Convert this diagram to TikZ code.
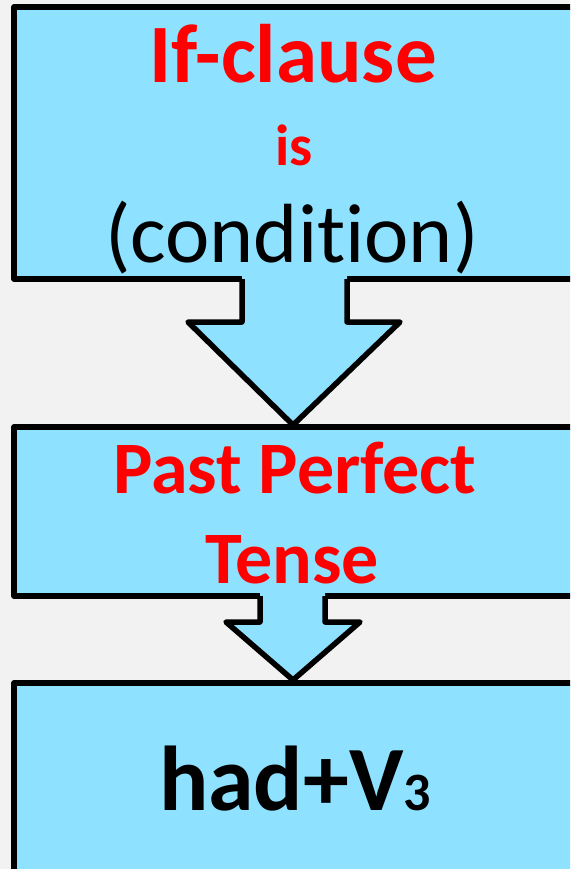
\documentclass[tikz,border=0pt]{standalone}
\usepackage{fontspec}
\setmainfont{Carlito}[Ligatures={NoCommon,NoDiscretionary},RawFeature={-liga;-dlig;-clig}]
\definecolor{bg}{HTML}{F2F2F2}
\definecolor{boxblue}{HTML}{8EE2FF}
\definecolor{txtred}{HTML}{FF0000}
\begin{document}
\begin{tikzpicture}[x=1pt,y=-1pt,
  boxstyle/.style={draw=black,fill=boxblue,line width=5.5pt,line join=round},
  arrowfill/.style={fill=boxblue},
  arrowline/.style={draw=black,line width=5.5pt,line join=round},
  lbl/.style={anchor=base,inner sep=0pt}]
\useasboundingbox (0,0) rectangle (570,869);
\fill[bg] (0,0) rectangle (570,869);
\clip (0,0) rectangle (570,869);
% box 1
\draw[boxstyle] (14,7) rectangle (620,279);
% arrow 1
\fill[arrowfill] (242,275) -- (242,322) -- (188,322) -- (293,425) -- (400,322) -- (347,322) -- (347,275) -- cycle;
\draw[arrowline] (242,279) -- (242,322) -- (188,322) -- (293,425) -- (400,322) -- (347,322) -- (347,279);
% box 2
\draw[boxstyle] (14,427) rectangle (620,596);
% arrow 2
\fill[arrowfill] (260,592) -- (260,622) -- (226,622) -- (293,680) -- (360,622) -- (325,622) -- (325,592) -- cycle;
\draw[arrowline] (260,596) -- (260,622) -- (226,622) -- (293,680) -- (360,622) -- (325,622) -- (325,596);
% box 3
\draw[boxstyle] (14,683) rectangle (620,900);
% texts
\node[lbl,text=txtred,font=\fontsize{83}{99}\selectfont\bfseries] (t1) at (293,83) {If-clause};
\node[lbl,text=txtred,font=\fontsize{58}{68}\selectfont\bfseries] (t2) at (294,166) {is};
\node[lbl,text=black,font=\fontsize{84}{100}\selectfont] (t3) at (292,262) {(condit\kern0pt ion)};
\node[lbl,text=txtred,font=\fontsize{74}{88}\selectfont\bfseries] (t4) at (295,493) {Past Perfect};
\node[lbl,text=txtred,font=\fontsize{74}{88}\selectfont\bfseries] (t5) at (292,583) {Tense};
\node[lbl,text=black,font=\fontsize{92}{110}\selectfont\bfseries] (t6) at (295,810) {had+V{\fontsize{54}{60}\selectfont 3}};
\end{tikzpicture}
\end{document}
